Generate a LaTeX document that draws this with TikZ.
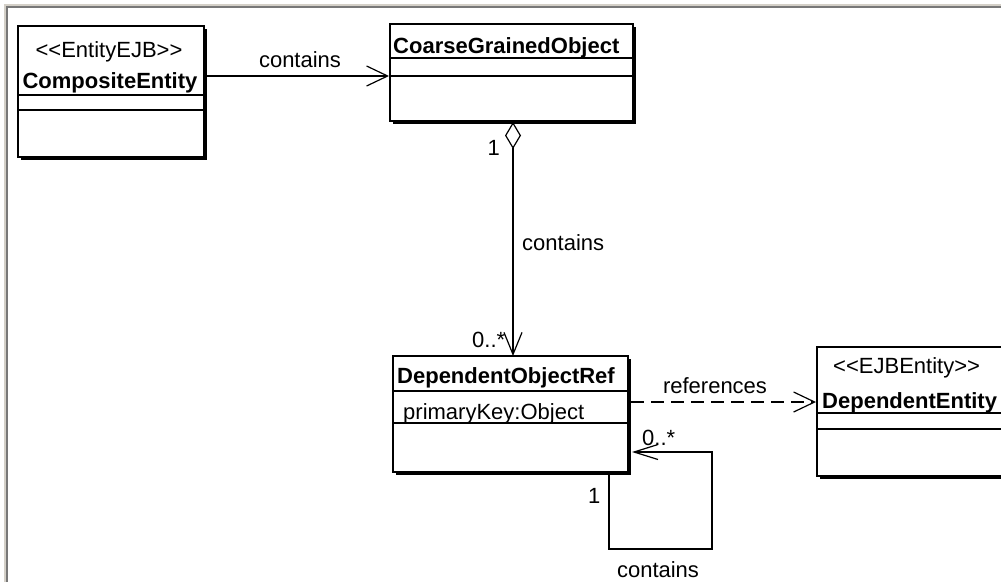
\documentclass[tikz,border=0pt]{standalone}
\usepackage{fontspec}
\newfontfamily\umlfont{Liberation Sans}
\usetikzlibrary{arrows.meta,shadows,calc}
\definecolor{frlight}{RGB}{212,208,200}
\definecolor{frdark}{RGB}{120,120,120}
\begin{document}
\begin{tikzpicture}[x=1pt,y=-1pt,
  classbox/.style={draw=black, line width=1.6pt, fill=white, rectangle, anchor=north west,
    inner sep=0pt, outer sep=0pt,
    drop shadow={fill=black, opacity=1, shadow xshift=3pt, shadow yshift=-3pt}},
  divider/.style={draw=black, line width=1.2pt},
  lbl/.style={inner sep=0pt, font=\umlfont\fontsize{22}{26}\selectfont},
  namelbl/.style={inner sep=0pt, font=\umlfont\bfseries\fontsize{22}{26}\selectfont},
  assoc/.style={draw=black, line width=1.2pt},
  openhead/.style={-{Straight Barb[length=21pt, width=20pt, line width=1.2pt]}},
  frameline/.style={line width=2pt}
]
\useasboundingbox (0,0) rectangle (1001,582);
\clip (0,0) rectangle (1001,582);
% window frame
\draw[frameline, frlight] (5,582) -- (5,5) -- (1001,5);
\draw[frameline, frdark] (7,582) -- (7,7) -- (1001,7);

% classes
\node[classbox, minimum width=186pt, minimum height=131pt] (ce) at (18,26) {};
\draw[divider] ($(ce.north west)+(0,69)$) -- ($(ce.north east)+(0,69)$);
\draw[divider] ($(ce.north west)+(0,84)$) -- ($(ce.north east)+(0,84)$);
\node[lbl, anchor=base] (ceS) at (109,57) {<\kern0pt<EntityEJB>\kern0pt>};
\node[namelbl, anchor=base] (ceN) at (110,88) {CompositeEntity};

\node[classbox, minimum width=243pt, minimum height=97pt] (cgo) at (390,24) {};
\draw[divider] ($(cgo.north west)+(0,34)$) -- ($(cgo.north east)+(0,34)$);
\draw[divider] ($(cgo.north west)+(0,52)$) -- ($(cgo.north east)+(0,52)$);
\node[namelbl, anchor=base west] (cgoN) at (393,53) {CoarseGrainedObject};

\node[classbox, minimum width=235pt, minimum height=116pt] (dor) at (393,356) {};
\draw[divider] ($(dor.north west)+(0,35)$) -- ($(dor.north east)+(0,35)$);
\draw[divider] ($(dor.north west)+(0,67)$) -- ($(dor.north east)+(0,67)$);
\node[namelbl, anchor=base west] (dorN) at (397,383) {DependentObjectRef};
\node[lbl, anchor=base west] (dorA) at (403,419) {primaryKey:Object};

\node[classbox, minimum width=200pt, minimum height=129pt] (de) at (817,347) {};
\draw[divider] ($(de.north west)+(0,66)$) -- ($(de.north east)+(0,66)$);
\draw[divider] ($(de.north west)+(0,82)$) -- ($(de.north east)+(0,82)$);
\node[lbl, anchor=base west] (deS) at (833,373) {<\kern0pt<EJBEntity>\kern0pt>};
\node[namelbl, anchor=base west] (deN) at (822,408) {DependentEntity};

% CompositeEntity -> CoarseGrainedObject
\draw[assoc, openhead] ($(ce.north east)+(0,50)$) -- ($(cgo.north west)+(-1,52)$);
\node[lbl, anchor=base] (l1) at (300,67) {contains};

% aggregation CoarseGrainedObject <>-> DependentObjectRef
\coordinate (aggTop) at ($(cgo.south)+(1.5,1)$);
\draw[assoc, {Diamond[open, length=27pt, width=16pt, line width=1.2pt]}-{Straight Barb[length=22pt, width=18pt, line width=1.2pt]}]
  (aggTop) -- (aggTop |- dor.north);
\node[lbl, anchor=base east] (l2a) at (500,155) {1};
\node[lbl, anchor=base west] (l2b) at (522,250) {contains};
\node[lbl, anchor=base west] (l2c) at (472,347) {0..*};

% references (dependency)
\draw[assoc, openhead, dash pattern=on 13pt off 7pt] ($(dor.north east)+(3,46)$) -- ($(de.north west)+(-1,55)$);
\node[lbl, anchor=base] (l3) at (715,393) {references};

% self association
\coordinate (selfCorner) at ($(dor.north east)+(84,96)$);
\draw[assoc, -{Straight Barb[length=24pt, width=15pt, line width=1.2pt]}]
  ($(dor.south west)+(216,0)$) -- ++(0,77) -| (selfCorner) -- ($(dor.north east)+(4,96)$);
\node[lbl, anchor=base west] (l4a) at (642,445) {0..*};
\node[lbl, anchor=base west] (l4b) at (588,503) {1};
\node[lbl, anchor=base] (l4c) at (658,577) {contains};
\end{tikzpicture}
\end{document}
